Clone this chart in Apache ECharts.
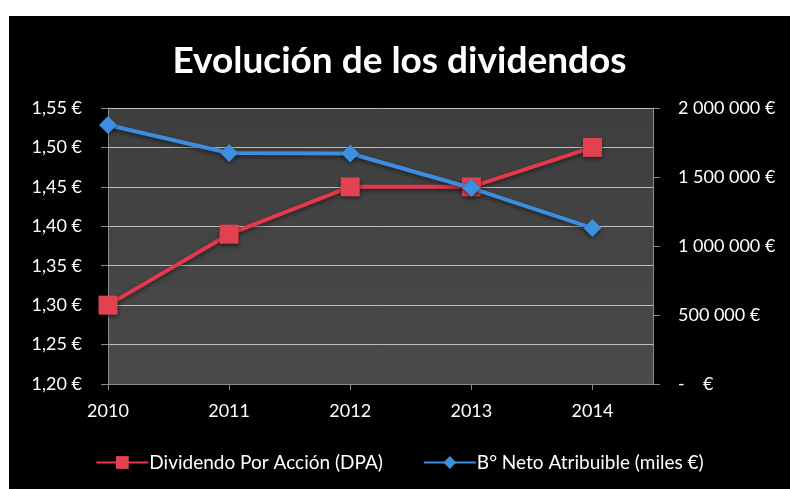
<!DOCTYPE html>
<html>
<head>
<meta charset="utf-8">
<script src="https://cdn.jsdelivr.net/npm/echarts@6/dist/echarts.min.js"></script>
<style>
  html, body { margin: 0; padding: 0; background: #ffffff; width: 790px; height: 489px; overflow: hidden; }
  #chart { position: absolute; left: 9px; top: 16px; width: 781px; height: 473px; background: #000000; }
</style>
</head>
<body>
<div id="chart"></div>
<script>
// Years on the horizontal axis
const years = [2010, 2011, 2012, 2013, 2014];
// Dividend per share (€)
const dpa = [1.30, 1.39, 1.45, 1.45, 1.50];
// Net attributable profit (thousands of €)
const beneficio = [1877000, 1674000, 1670000, 1420000, 1130000];

// Left axis ticks (€ per share) and right axis ticks (thousands €)
const leftMin = 1.20, leftMax = 1.55, leftStep = 0.05;
const rightMin = 0, rightMax = 2000000, rightStep = 500000;

const seriesNames = ['Dividendo Por Acción (DPA)', 'B° Neto Atribuible (miles €)'];

function groupThousands(v) {
  return String(Math.round(v)).replace(/\B(?=(\d{3})+(?!\d))/g, ' ');
}

const font = 'Lato, "Open Sans", sans-serif';
const chart = echarts.init(document.getElementById('chart'));

chart.setOption({
  backgroundColor: '#000000',
  animation: false,
  title: {
    text: 'Evolución de los dividendos',
    left: 'center',
    top: 22,
    textStyle: { color: '#ffffff', fontSize: 37, fontWeight: 'bold', fontFamily: font }
  },
  legend: {
    bottom: 12,
    left: 'center',
    itemWidth: 52,
    itemHeight: 16,
    itemGap: 40,
    textStyle: { color: '#ffffff', fontSize: 19, fontFamily: font, padding: [0, 0, 0, -4] },
    data: seriesNames
  },
  grid: {
    left: 99, top: 92, width: 545, height: 276,
    show: true,
    borderWidth: 0,
    backgroundColor: new echarts.graphic.LinearGradient(0, 0, 0, 1, [
      { offset: 0, color: '#3e3e3e' },
      { offset: 1, color: '#4a4a4a' }
    ])
  },
  xAxis: {
    type: 'value',
    min: years[0],
    max: years[years.length - 1] + 0.5,
    interval: 1,
    axisLine: { show: true, onZero: false, lineStyle: { color: '#8c8c8c', width: 1 } },
    axisTick: { show: true, length: 6, lineStyle: { color: '#8c8c8c' } },
    splitLine: { show: false },
    axisLabel: {
      color: '#ffffff', fontSize: 18, fontFamily: font, margin: 18,
      showMaxLabel: false,
      formatter: v => (Number.isInteger(v) ? String(v) : '')
    }
  },
  yAxis: [
    {
      type: 'value',
      min: leftMin, max: leftMax, interval: leftStep,
      axisLine: { show: true, lineStyle: { color: '#8c8c8c', width: 1 } },
      axisTick: { show: true, length: 7, lineStyle: { color: '#8c8c8c' } },
      splitLine: { show: true, lineStyle: { color: '#bdbdbd', width: 1 } },
      axisLabel: {
        color: '#ffffff', fontSize: 18, fontFamily: font, margin: 26,
        formatter: v => v.toFixed(2).replace('.', ',') + ' €'
      }
    },
    {
      type: 'value',
      min: rightMin, max: rightMax, interval: rightStep,
      position: 'right',
      axisLine: { show: true, lineStyle: { color: '#8c8c8c', width: 1 } },
      axisTick: { show: true, length: 7, lineStyle: { color: '#8c8c8c' } },
      splitLine: { show: false },
      axisLabel: {
        color: '#ffffff', fontSize: 18, fontFamily: font, margin: 25,
        formatter: v => (v === 0 ? '-    €' : groupThousands(v) + ' €')
      }
    }
  ],
  series: [
    {
      name: seriesNames[0],
      type: 'line',
      yAxisIndex: 0,
      data: years.map((y, i) => [y, dpa[i]]),
      symbol: 'rect',
      symbolSize: 19,
      lineStyle: { color: '#e5384c', width: 4, shadowColor: 'rgba(0,0,0,0.5)', shadowBlur: 4, shadowOffsetY: 2 },
      itemStyle: { color: '#e2414f', shadowColor: 'rgba(0,0,0,0.5)', shadowBlur: 4, shadowOffsetY: 2 },
      z: 2
    },
    {
      name: seriesNames[1],
      type: 'line',
      yAxisIndex: 1,
      data: years.map((y, i) => [y, beneficio[i]]),
      symbol: 'diamond',
      symbolSize: 18,
      lineStyle: { color: '#3c8ce0', width: 4, shadowColor: 'rgba(0,0,0,0.5)', shadowBlur: 4, shadowOffsetY: 2 },
      itemStyle: { color: '#3d8fe2', shadowColor: 'rgba(0,0,0,0.5)', shadowBlur: 4, shadowOffsetY: 2 },
      z: 3
    }
  ]
});
</script>
</body>
</html>
